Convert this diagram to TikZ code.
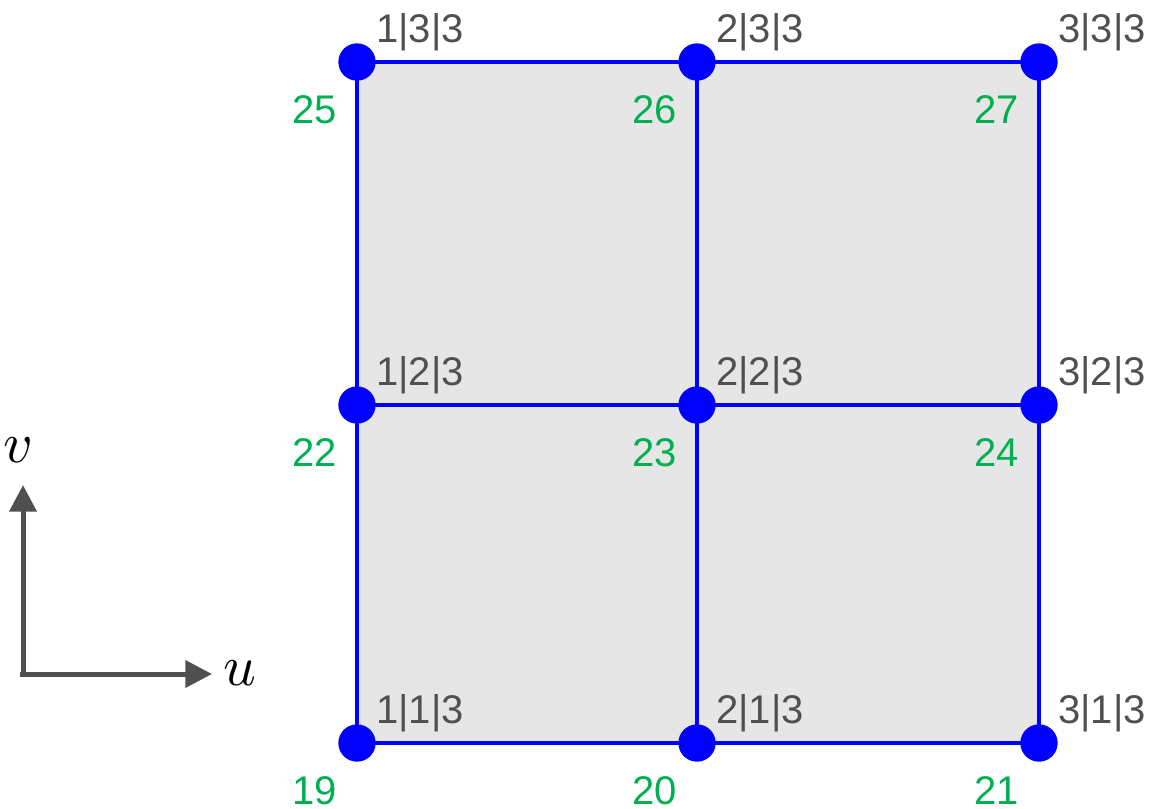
\documentclass[tikz,border=0pt]{standalone}
\usepackage{fontspec}
\setmainfont{Liberation Sans}
\usetikzlibrary{arrows.meta}
\definecolor{lblgray}{HTML}{505050}
\definecolor{lblgreen}{HTML}{00B050}
\definecolor{cellfill}{HTML}{E6E6E6}
\definecolor{axisgray}{HTML}{505050}
\tikzset{
  pt/.style={circle,fill={rgb,255:red,0;green,0;blue,255},inner sep=0pt,minimum size=28pt},
  edge/.style={draw={rgb,255:red,0;green,0;blue,255},line width=3pt},
  idx/.style={text=lblgray,font=\fontsize{30}{30}\selectfont,anchor=base west,inner sep=0pt},
  num/.style={text=lblgreen,font=\fontsize{30}{30}\selectfont,anchor=base east,inner sep=0pt},
  axis/.style={draw=axisgray,line width=3.75pt,-{Triangle[length=20pt,width=20pt]}},
  axlbl/.style={inner sep=0pt}
}
\begin{document}
\begin{tikzpicture}[x=0.75pt,y=-0.75pt]
\useasboundingbox (0,0) rectangle (1153,808);
% coordinates of grid points
\coordinate (c19) at (357,743);
\coordinate (c20) at (697,743);
\coordinate (c21) at (1039,743);
\coordinate (c22) at (357,405);
\coordinate (c23) at (697,405);
\coordinate (c24) at (1039,405);
\coordinate (c25) at (357,62);
\coordinate (c26) at (697,62);
\coordinate (c27) at (1039,62);
\fill[cellfill] (c19) rectangle (c27);
\draw[edge] (c19) -- (c21);
\draw[edge] (c22) -- (c24);
\draw[edge] (c25) -- (c27);
\draw[edge] (c19) -- (c25);
\draw[edge] (c20) -- (c26);
\draw[edge] (c21) -- (c27);
\foreach \n/\a/\b in {19/1/1,20/2/1,21/3/1,22/1/2,23/2/2,24/3/2,25/1/3,26/2/3,27/3/3}{
  \node[pt] (n\n) at (c\n) {};
  \node[idx] (t\n) at ([shift={(19,-20)}]c\n) {\a|\b|3};
  \node[num] (g\n) at ([shift={(-20,61)}]c\n) {\n};
}
% axes
\coordinate (origin) at (23,674);
\coordinate (vtip) at (23,485);
\coordinate (utip) at (212,674);
\draw[axis] (origin) -- (vtip);
\draw[axis] ([xshift=-1.9pt]origin) -- (utip);
\node[axlbl] (vl) at (18,450) {\scalebox{4.3}{$v$}};
\node[axlbl] (ul) at (240,673) {\scalebox{4.3}{$u$}};
\end{tikzpicture}
\end{document}
